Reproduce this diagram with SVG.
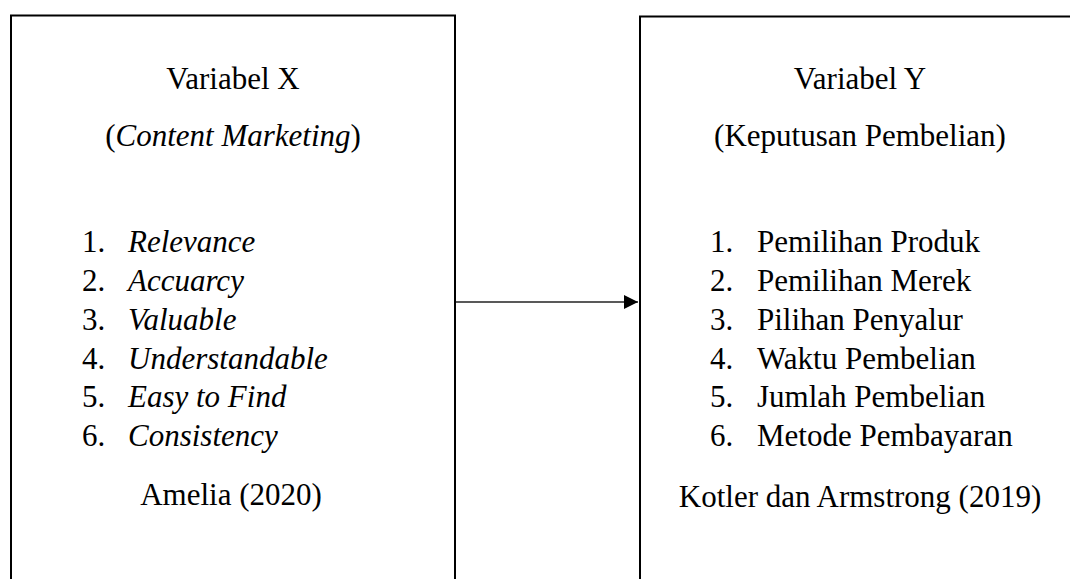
<svg xmlns="http://www.w3.org/2000/svg" width="1070" height="579" viewBox="0 0 1070 579">
<style>
.box{fill:none;stroke:#000;stroke-width:2}
.t{font-family:"Liberation Serif","Times New Roman",serif;font-size:31px;fill:#000}
.c{text-anchor:middle}
.i{font-style:italic}
.conn{stroke:#222;stroke-width:1.3;fill:none}
</style>
<defs>
<marker id="ah" viewBox="0 0 14 14" refX="14" refY="7" markerWidth="14" markerHeight="14" markerUnits="userSpaceOnUse" orient="auto">
<path d="M0,0 L14,7 L0,14 Z" fill="#000"/>
</marker>
</defs>
<rect width="1070" height="579" fill="#fff"/>
<g id="node-x">
<rect class="box" x="11" y="15.5" width="444" height="600"/>
<text class="t c" x="233" y="89">Variabel X</text>
<text class="t c" x="233" y="146">(<tspan class="i">Content Marketing</tspan>)</text>
<text class="t" x="82" y="252">1.</text><text class="t i" x="128" y="252">Relevance</text>
<text class="t" x="82" y="291">2.</text><text class="t i" x="128" y="291">Accuarcy</text>
<text class="t" x="82" y="330">3.</text><text class="t i" x="128" y="330">Valuable</text>
<text class="t" x="82" y="369">4.</text><text class="t i" x="128" y="369">Understandable</text>
<text class="t" x="82" y="407">5.</text><text class="t i" x="128" y="407">Easy to Find</text>
<text class="t" x="82" y="446">6.</text><text class="t i" x="128" y="446">Consistency</text>
<text class="t c" x="231" y="505">Amelia (2020)</text>
</g>
<g id="node-y">
<rect class="box" x="640" y="16.5" width="440" height="600"/>
<text class="t c" x="860" y="89">Variabel Y</text>
<text class="t c" x="860" y="146">(Keputusan Pembelian)</text>
<text class="t" x="710" y="252">1.</text><text class="t" x="757" y="252">Pemilihan Produk</text>
<text class="t" x="710" y="291">2.</text><text class="t" x="757" y="291">Pemilihan Merek</text>
<text class="t" x="710" y="330">3.</text><text class="t" x="757" y="330">Pilihan Penyalur</text>
<text class="t" x="710" y="369">4.</text><text class="t" x="757" y="369">Waktu Pembelian</text>
<text class="t" x="710" y="407">5.</text><text class="t" x="757" y="407">Jumlah Pembelian</text>
<text class="t" x="710" y="446">6.</text><text class="t" x="757" y="446">Metode Pembayaran</text>
<text class="t c" x="860" y="507">Kotler dan Armstrong (2019)</text>
</g>
<g id="connectors">
<line class="conn" x1="456" y1="302" x2="638" y2="302" marker-end="url(#ah)"/>
</g>
</svg>
